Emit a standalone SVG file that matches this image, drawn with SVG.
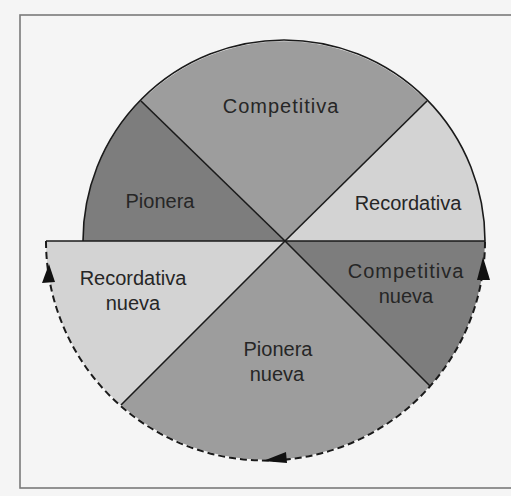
<svg xmlns="http://www.w3.org/2000/svg" width="511" height="496" viewBox="0 0 511 496">
<style>
.bg{fill:#f5f5f5}
.frame{fill:none;stroke:#7a7a7a;stroke-width:1.6}
.light{fill:#d3d3d3}
.mid{fill:#9d9d9d}
.dark{fill:#7d7d7d}
.edge{stroke:#1a1a1a;stroke-width:1.6;fill:none}
.dash{stroke:#1a1a1a;stroke-width:2;fill:none;stroke-dasharray:7 4}
.arr{fill:#111}
text{font-family:"Liberation Sans",Arial,sans-serif;font-size:20px;fill:#262626;text-anchor:middle}
.wide{letter-spacing:1px}
</style>
<rect class="bg" x="0" y="0" width="511" height="496"/>
<rect class="frame" x="20" y="15" width="500" height="473"/>
<g id="pionera">
<path class="dark" d="M285,241 L141,101 A201,201 0 0 0 83,241 Z"/>
<text x="160" y="208">Pionera</text>
</g>
<g id="competitiva">
<path class="mid" d="M285,241 L141,101 A201,201 0 0 1 427,101 Z"/>
<text class="wide" x="281" y="113">Competitiva</text>
</g>
<g id="recordativa">
<path class="light" d="M285,241 L427,101 A201,201 0 0 1 485,241 Z"/>
<text x="408" y="210">Recordativa</text>
</g>
<g id="recordativa-nueva">
<path class="light" d="M285,241 L46,241 A219.5,219.5 0 0 0 121,405 Z"/>
<text x="133" y="285">Recordativa</text>
<text x="133" y="310">nueva</text>
</g>
<g id="pionera-nueva">
<path class="mid" d="M285,241 L121,405 A219.5,219.5 0 0 0 430,386 Z"/>
<text x="278" y="356">Pionera</text>
<text x="277" y="381">nueva</text>
</g>
<g id="competitiva-nueva">
<path class="dark" d="M285,241 L430,386 A219.5,219.5 0 0 0 485,241 Z"/>
<text class="wide" x="406" y="278">Competitiva</text>
<text x="406" y="303">nueva</text>
</g>
<g id="connectors">
<path class="edge" d="M83,241 A201,201 0 0 1 485,241"/>
<line class="edge" x1="46" y1="241" x2="485" y2="241"/>
<line class="edge" x1="141" y1="101" x2="285" y2="241"/>
<line class="edge" x1="427" y1="101" x2="285" y2="241"/>
<line class="edge" x1="121" y1="405" x2="285" y2="241"/>
<line class="edge" x1="430" y1="386" x2="285" y2="241"/>
<path class="dash" d="M46,241 A219.5,219.5 0 0 0 485,241"/>
<polygon class="arr" points="49,264 42,283 55,282"/>
<polygon class="arr" points="483,257 477,280 490,280"/>
<polygon class="arr" points="263,461 286,452 287,463"/>
</g>
</svg>
